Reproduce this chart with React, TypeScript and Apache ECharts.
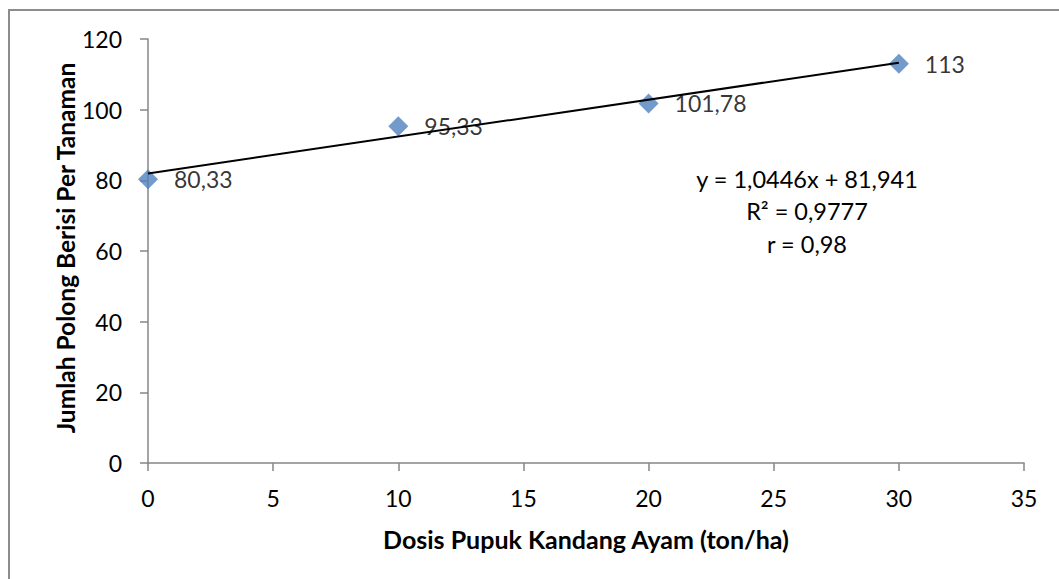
import React, { useEffect, useRef } from "react";
import * as echarts from "echarts";

const doses = [0, 10, 20, 30];
const pods = [80.33, 95.33, 101.78, 113];
const xTicks = { min: 0, max: 35, interval: 5 };
const yTicks = { min: 0, max: 120, interval: 20 };
const slope = 1.0446;
const intercept = 81.941;
const equationLines = ["y = 1,0446x + 81,941", "R² = 0,9777", "r = 0,98"];
const xTitle = "Dosis Pupuk Kandang Ayam (ton/ha)";
const yTitle = "Jumlah Polong Berisi Per Tanaman";

const FONT = "Lato, 'Open Sans', sans-serif";
const AXIS_COLOR = "#868686";

export default function App() {
  const ref = useRef<HTMLDivElement>(null);
  useEffect(() => {
    if (!ref.current) return;
    const chart = echarts.init(ref.current, undefined, { renderer: "svg" });
    const xMin = doses[0];
    const xMax = doses[doses.length - 1];
    const trend = [
      [xMin, slope * xMin + intercept],
      [xMax, slope * xMax + intercept],
    ];
    const axisCommon = {
      axisLine: { show: true, lineStyle: { color: AXIS_COLOR, width: 1.5 } },
      axisTick: { show: true, length: 8, inside: false, lineStyle: { color: AXIS_COLOR, width: 1.5 } },
      splitLine: { show: false },
      axisLabel: { color: "#000", fontSize: 23, fontFamily: FONT },
    };
    chart.setOption({
      animation: false,
      backgroundColor: "#fff",
      grid: { left: 148, right: 35, top: 39, bottom: 116, containLabel: false },
      xAxis: {
        type: "value",
        ...axisCommon,
        min: xTicks.min,
        max: xTicks.max,
        interval: xTicks.interval,
        axisLabel: { ...axisCommon.axisLabel, margin: 23 },
      },
      yAxis: {
        type: "value",
        ...axisCommon,
        min: yTicks.min,
        max: yTicks.max,
        interval: yTicks.interval,
        axisLabel: { ...axisCommon.axisLabel, margin: 26 },
      },
      series: [
        {
          type: "scatter",
          data: doses.map((d, i) => [d, pods[i]]),
          symbol: "diamond",
          symbolSize: 20,
          itemStyle: { color: "#4F81BD" },
          label: {
            show: true,
            position: "right",
            distance: 16,
            color: "#000",
            fontSize: 23,
            fontFamily: FONT,
            formatter: (p: any) => String(p.value[1]).replace(".", ","),
          },
          z: 2,
        },
        {
          type: "line",
          data: trend,
          symbol: "none",
          lineStyle: { color: "#000", width: 2 },
          z: 3,
        },
      ],
      graphic: [
        {
          type: "rect",
          shape: { x: 9, y: 10, width: 1200, height: 800 },
          style: { fill: "none", stroke: "#8c8c8c", lineWidth: 2 },
          silent: true,
        },
        {
          type: "text",
          x: 586,
          y: 539,
          style: {
            text: xTitle,
            fontSize: 25,
            fontWeight: "bold",
            fontFamily: FONT,
            fill: "#000",
            align: "center",
            verticalAlign: "middle",
          },
        },
        {
          type: "text",
          x: 65,
          y: 248,
          rotation: Math.PI / 2,
          style: {
            text: yTitle,
            fontSize: 24.5,
            fontWeight: "bold",
            fontFamily: FONT,
            fill: "#000",
            align: "center",
            verticalAlign: "middle",
          },
        },
        {
          type: "text",
          x: 807,
          y: 211,
          style: {
            text: equationLines.join("\n"),
            fontSize: 23.5,
            lineHeight: 32.5,
            fontFamily: FONT,
            fill: "#000",
            align: "center",
            verticalAlign: "middle",
          },
        },
      ],
    });
    return () => chart.dispose();
  }, []);
  return (
    <div
      ref={ref}
      style={{ position: "fixed", left: 0, top: 0, width: 1059, height: 579, background: "#fff" }}
    />
  );
}
